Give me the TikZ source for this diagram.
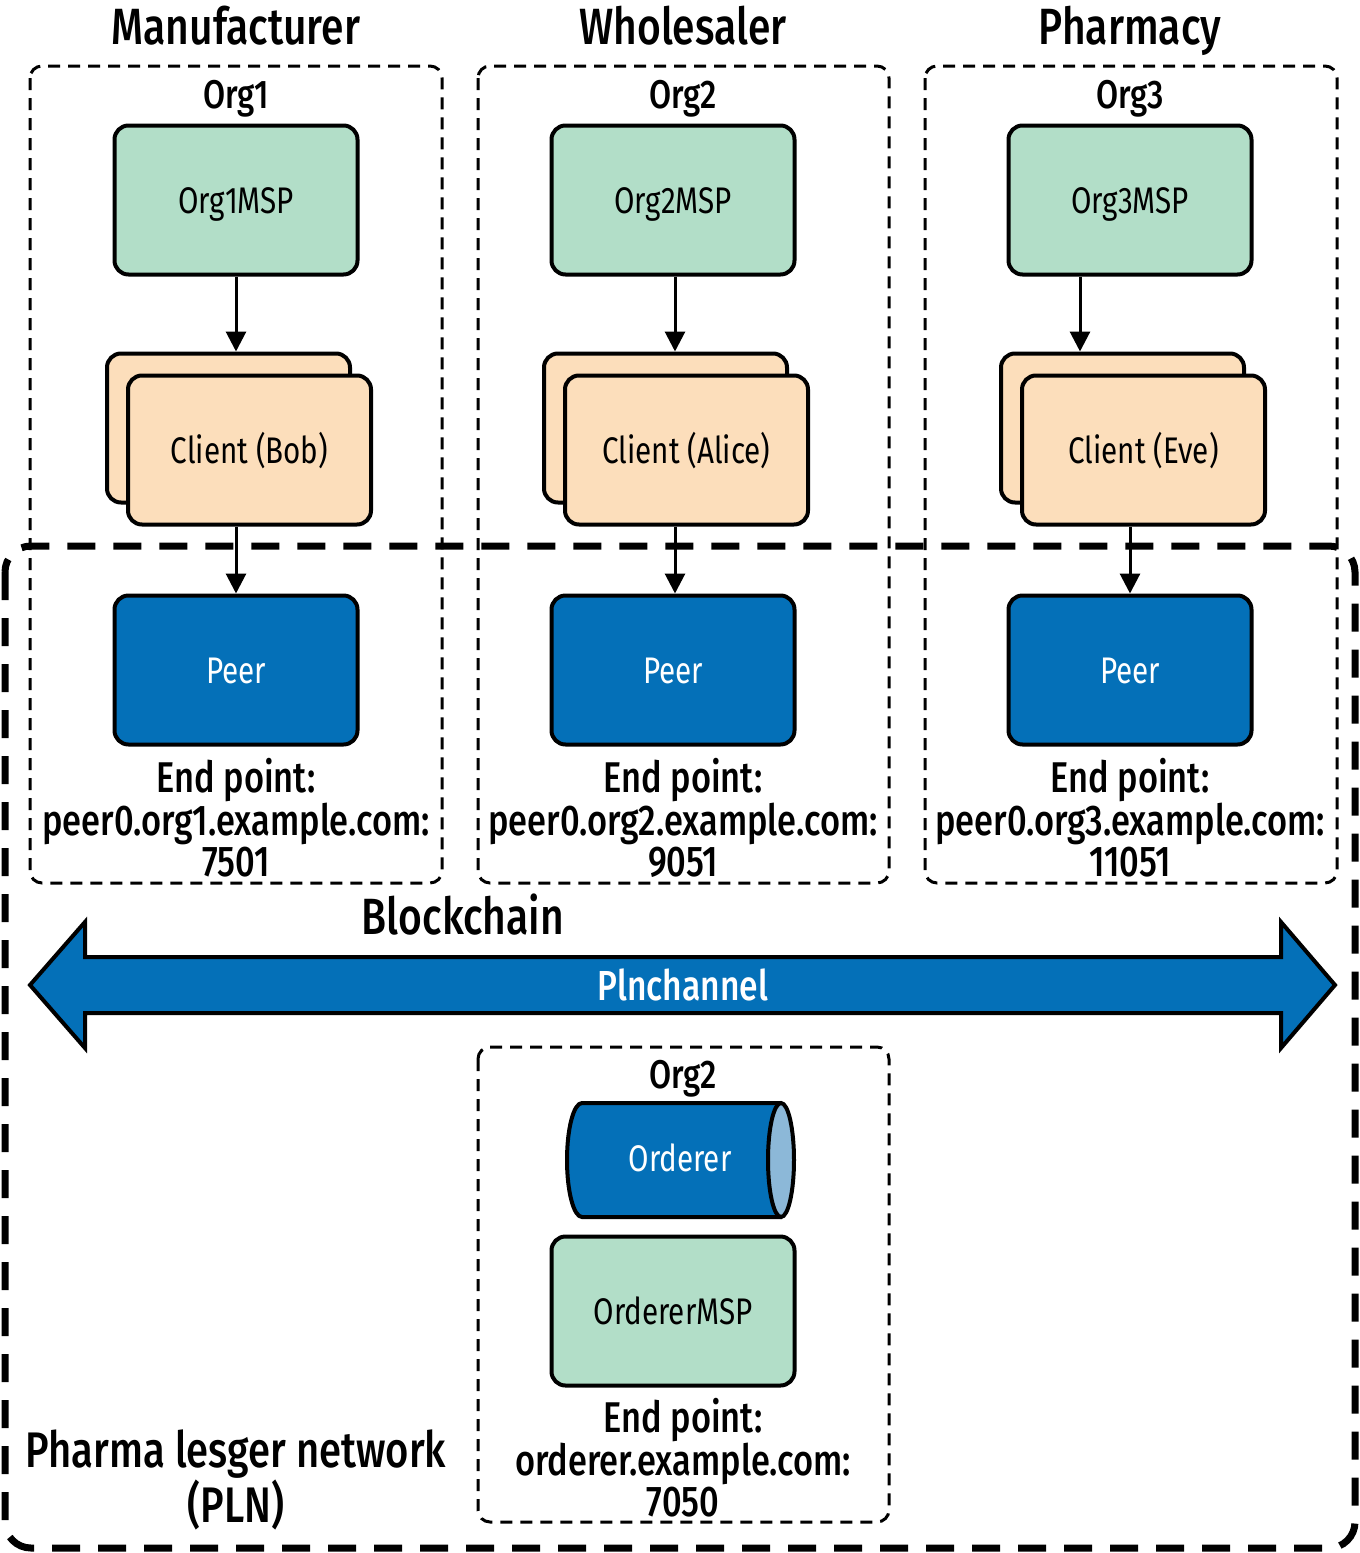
\documentclass[tikz,border=0pt]{standalone}
\usepackage{fontspec}
\setmainfont{Fira Sans}[FakeStretch=0.8]
\newfontfamily\medfont{Fira Sans Medium}[FakeStretch=0.8]
\usetikzlibrary{arrows.meta}
\definecolor{mspgreen}{HTML}{B2DEC8}
\definecolor{clientpeach}{HTML}{FCDEBB}
\definecolor{peerblue}{HTML}{0470B8}
\definecolor{capblue}{HTML}{8CB8D8}
\tikzset{
  box/.style={draw, line width=4pt, rounded corners=14pt, minimum width=243pt, minimum height=149pt, inner sep=0pt, text height=26pt, text depth=0pt},
  boxfont/.style={font=\fontsize{37}{42}\selectfont},
  msp/.style={box, boxfont, fill=mspgreen},
  client/.style={box, boxfont, fill=clientpeach},
  peer/.style={box, boxfont, fill=peerblue, text=white},
  orgbox/.style={draw, line width=3pt, dash pattern=on 12pt off 8pt, rounded corners=12pt},
  title/.style={font=\medfont\fontsize{51}{56}\selectfont, inner sep=0pt, anchor=base},
  orglbl/.style={font=\medfont\fontsize{40}{46}\selectfont, inner sep=0pt, anchor=base},
  endpt/.style={font=\medfont\fontsize{43}{41}\selectfont, align=center, inner sep=0pt},
  flow/.style={line width=3pt, -{Triangle[length=20pt,width=20pt]}},
}
\begin{document}
\begin{tikzpicture}[x=1pt,y=-1pt]
\useasboundingbox (0,0) rectangle (1360,1553);
% big PLN box
\draw[line width=7pt, dash pattern=on 28pt off 18pt, rounded corners=26pt] (5,546) rectangle (1355,1548);
% org boxes
\foreach \xa/\xb in {30/442, 478/889, 925/1337}{
  \draw[orgbox] (\xa,66) rectangle (\xb,883);
}
\draw[orgbox] (478,1047) rectangle (889,1522);
% titles
\node[title] (t1) at (236,44) {Manufacturer};
\node[title] (t2) at (683,44) {Wholesaler};
\node[title] (t3) at (1130,44) {Pharmacy};
\node[orglbl] (o1) at (236,108) {Org1};
\node[orglbl] (o2) at (683,108) {Org2};
\node[orglbl] (o3) at (1130,108) {Org3};
% columns
\foreach \i/\cx/\ax/\bx/\who in {1/236/236/236/Bob, 2/673/675/675/Alice, 3/1130/1080/1130/Eve}{
  \node[msp] (msp\i) at (\cx,200) {Org\i MSP};
  \node[client] (cb\i) at (\cx-7.5,428) {};
  \node[client] (cf\i) at (\cx+13.5,450) {Client (\who)};
  \node[peer] (peer\i) at (\cx,670) {Peer};
  \coordinate (a\i) at (\ax,0);
  \coordinate (b\i) at (\bx,0);
  \draw[flow] (msp\i.south -| a\i) -- (cb\i.north -| a\i);
  \draw[flow] (cf\i.south -| b\i) -- (peer\i.north -| b\i);
}
\node[endpt] (e1) at (236,818) {End point:\\peer0.org1.example.com:\\7501};
\node[endpt] (e2) at (683,818) {End point:\\peer0.org2.example.com:\\9051};
\node[endpt] (e3) at (1130,818) {End point:\\peer0.org3.example.com:\\11051};
% blockchain
\node[title] (bc) at (463,934) {Blockchain};
\draw[line width=4pt, fill=peerblue, line join=miter]
  (30,985) -- (85,922) -- (85,957) -- (1281,957) -- (1281,922) -- (1335,985)
  -- (1281,1048) -- (1281,1013) -- (85,1013) -- (85,1048) -- cycle;
\node[font=\medfont\fontsize{42}{46}\selectfont, text=white, inner sep=0pt] (ch) at (683,985) {Plnchannel};
% orderer
\node[orglbl] (o4) at (683,1088) {Org2};
\draw[line width=4pt, fill=peerblue]
  (782,1103) -- (582,1103) arc[start angle=270, end angle=90, x radius=15, y radius=57] -- (782,1217);
\draw[line width=4pt, fill=capblue] (781,1160) ellipse[x radius=13, y radius=57];
\node[boxfont, text=white, inner sep=0pt, text height=26pt, text depth=0pt] (ord) at (680,1158) {Orderer};
\node[msp] (omsp) at (673,1311) {OrdererMSP};
\node[endpt] (e4) at (683,1458) {End point:\\orderer.example.com:\\7050};
\node[endpt, font=\medfont\fontsize{50}{48}\selectfont] (pln) at (236,1480) {Pharma lesger network\\(PLN)};
\end{tikzpicture}
\end{document}
